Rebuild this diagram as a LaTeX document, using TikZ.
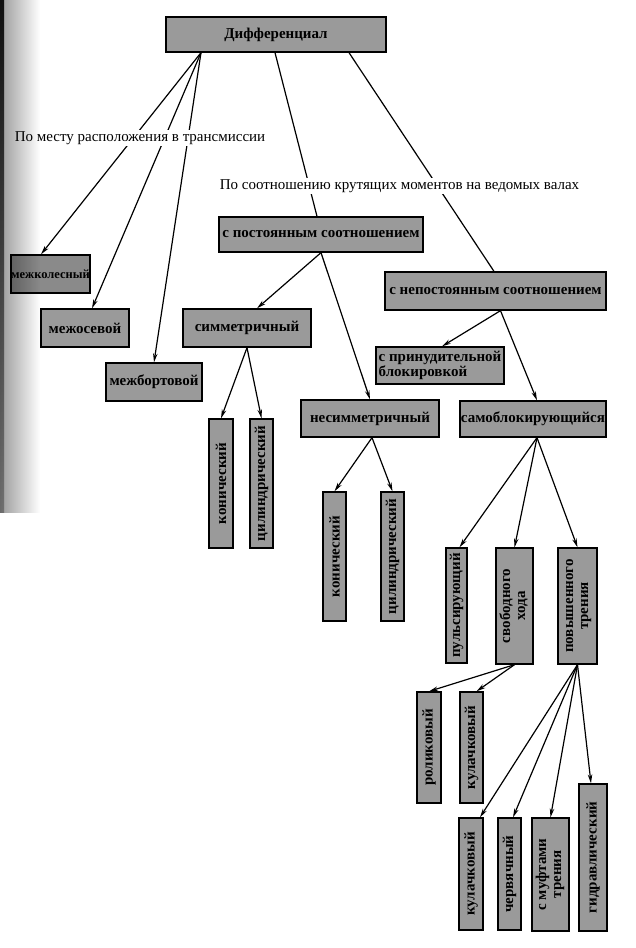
\documentclass[tikz,border=0pt]{standalone}
\usepackage{fontspec}
\setmainfont{Liberation Serif}
\usetikzlibrary{arrows.meta,calc}
\definecolor{boxgray}{HTML}{9A9A9A}
\definecolor{darkbox}{HTML}{8A8A8A}
\tikzset{
  box/.style={draw=black, line width=1.3pt, fill=boxgray, inner sep=0pt,
    font=\fontsize{15}{16}\selectfont\bfseries, align=center},
  lbl/.style={fill=white, inner sep=1.5pt, font=\fontsize{15}{17}\selectfont},
  link/.style={line width=1.2pt},
  arr/.style={link, -{Stealth[length=9pt, width=4.5pt]}},
}
\newcommand\mkbox[7][]{\node[box,#1, minimum width={(#5-#3)*1pt}, minimum height={(#6-#4)*1pt}] (#2) at ({(#3+#5)/2},{(#4+#6)/2}) {#7};}
\newcommand\vt[1]{\rotatebox{90}{#1}}
\newcommand\vtt[2]{\rotatebox{90}{\begin{tabular}{@{}c@{}}#1\\[-1pt]#2\end{tabular}}}
\begin{document}
\begin{tikzpicture}[x=1pt,y=-1pt]
\useasboundingbox (0,0) rectangle (636,948);
\fill[white] (0,0) rectangle (636,948);

% boxes
\mkbox{diff}{166}{17}{386}{52}{Дифференциал}
\mkbox[fill=darkbox,font=\fontsize{12.5}{14}\selectfont\bfseries]{mk}{11}{255}{90}{293}{межколесный}
\mkbox{mo}{41}{309}{129}{347}{межосевой}
\mkbox{mb}{106}{363}{202}{401}{межбортовой}
\mkbox{cpost}{219}{217}{423}{252}{с постоянным соотношением}
\mkbox{cnep}{385}{272}{606}{310}{с непостоянным соотношением}
\mkbox{sym}{183}{309}{311}{347}{симметричный}
\mkbox[align=left]{prin}{376}{347}{504}{384}{с принудительной\\[-1pt]блокировкой}
\mkbox{nesym}{301}{400}{439}{437}{несимметричный}
\mkbox{samo}{460}{401}{606}{437}{самоблокирующийся}
\mkbox{kon1}{209}{419}{233}{548}{\vt{конический}}
\mkbox{cyl1}{250}{419}{273}{548}{\vt{цилиндрический}}
\mkbox{kon2}{323}{492}{346}{621}{\vt{конический}}
\mkbox{cyl2}{381}{492}{404}{621}{\vt{цилиндрический}}
\mkbox{puls}{446}{548}{467}{663}{\vt{пульсирующий}}
\mkbox{svob}{496}{548}{533}{664}{\vtt{свободного}{хода}}
\mkbox{povy}{558}{548}{597}{664}{\vtt{повышенного}{трения}}
\mkbox{rol}{417}{692}{441}{803}{\vt{роликовый}}
\mkbox{kul1}{460}{692}{483}{803}{\vt{кулачковый}}
\mkbox{kul2}{459}{818}{483}{930}{\vt{кулачковый}}
\mkbox{cher}{498}{818}{521}{930}{\vt{червячный}}
\mkbox{muf}{532}{818}{569}{931}{\vtt{с муфтами}{трения}}
\mkbox{gidr}{579}{784}{607}{931}{\vt{гидравлический}}

% connectors
\draw[arr] ([xshift=-75pt]diff.south) -- ([xshift=-9.5pt]mk.north);
\draw[arr] ([xshift=-75pt]diff.south) -- ([xshift=7pt]mo.north);
\draw[arr] ([xshift=-75pt]diff.south) -- (mb.north);
\draw[link] ([xshift=-1pt]diff.south) -- ([xshift=-4pt]cpost.north);
\draw[link] ([xshift=73pt]diff.south) -- ([xshift=-1.5pt]cnep.north);
\draw[arr] (cpost.south) -- ([xshift=10pt]sym.north);
\draw[arr] (cpost.south) -- (nesym.north);
\draw[arr] (sym.south) -- (kon1.north);
\draw[arr] (sym.south) -- (cyl1.north);
\draw[arr] ([xshift=2pt]nesym.south) -- (kon2.north);
\draw[arr] ([xshift=2pt]nesym.south) -- (cyl2.north);
\draw[arr] ([xshift=5pt]cnep.south) -- ([xshift=2pt]prin.north);
\draw[arr] ([xshift=5pt]cnep.south) -- ([xshift=4pt]samo.north);
\draw[arr] ([xshift=4pt]samo.south) -- ([xshift=3pt]puls.north);
\draw[arr] ([xshift=4pt]samo.south) -- (svob.north);
\draw[arr] ([xshift=4pt]samo.south) -- (povy.north);
\draw[arr] (svob.south) -- (rol.north);
\draw[arr] (svob.south) -- ([xshift=5pt]kul1.north);
\draw[arr] (povy.south) -- ([xshift=9pt]kul2.north);
\draw[arr] (povy.south) -- ([xshift=3.5pt]cher.north);
\draw[arr] (povy.south) -- (muf.north);
\draw[arr] (povy.south) -- ([xshift=-2pt]gidr.north);

% category labels
\node[lbl] (lab1) at (140,138) {По месту расположения в трансмиссии};
\node[lbl] (lab2) at (399.5,186) {По соотношению крутящих моментов на ведомых валах};

% scan shading at the left margin, laid over the page
\begin{scope}[blend mode=multiply]
\shade[left color=black!40, right color=white] (0,0) rectangle (40,512);
\shade[top color=black!90, bottom color=black!30] (0,0) rectangle (4,512);
\end{scope}
\end{tikzpicture}
\end{document}
